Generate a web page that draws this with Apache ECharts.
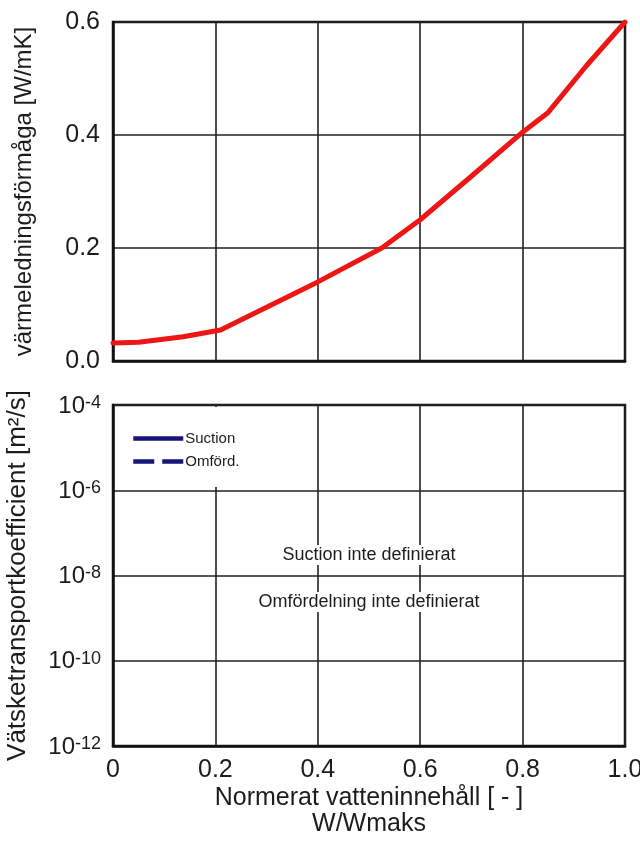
<!DOCTYPE html>
<html>
<head>
<meta charset="utf-8">
<script src="https://cdn.jsdelivr.net/npm/echarts@6/dist/echarts.min.js"></script>
<style>
  html, body { margin: 0; padding: 0; background: #fff; }
  #chart { width: 640px; height: 844px; }
</style>
</head>
<body>
<div id="chart"></div>
<script>
// normerat vatteninnehall (W/Wmaks) and varmeledningsformaga [W/mK]
var waterContent = [0, 0.05, 0.137, 0.21, 0.3, 0.4, 0.525, 0.6, 0.7, 0.8, 0.85, 0.925, 1.0];
var conductivity = [0.032, 0.033, 0.043, 0.055, 0.095, 0.14, 0.2, 0.25, 0.327, 0.405, 0.44, 0.523, 0.6];

// vatsketransport - no data defined
var suctionData = [];
var redistData = [];
var legendNames = ['Suction', 'Omförd.'];
var noteTexts = ['Suction inte definierat', 'Omfördelning inte definierat'];

var FONT = '"Liberation Sans", Arial, Helvetica, sans-serif';
var TXT = '#1c1c1c';

var myChart = echarts.init(document.getElementById('chart'));

function pairs(xs, ys) {
	var out = [];
	for (var i = 0; i < xs.length; i++) {
		out.push([xs[i], ys[i]]);
	}
	return out;
}

var option = {
	animation: false,
	backgroundColor: '#fff',
	textStyle: { fontFamily: FONT, color: TXT },
	grid: [
		{ left: 113, right: 15, top: 22, height: 339, show: true, borderColor: '#111', borderWidth: 2.5, outerBoundsMode: 'none', containLabel: false },
		{ left: 113, right: 15, top: 405, height: 341, show: true, borderColor: '#111', borderWidth: 2.5, outerBoundsMode: 'none', containLabel: false }
	],
	legend: {
		data: legendNames,
		orient: 'vertical',
		left: 115,
		top: 407,
		padding: [24, 15, 18, 16],
		itemGap: 8,
		itemWidth: 50,
		itemHeight: 15,
		backgroundColor: '#fff',
		itemStyle: { opacity: 0 },
		lineStyle: { width: 4.5 },
		textStyle: { fontFamily: FONT, fontSize: 15, color: TXT, padding: [0, 0, 0, -3] }
	},
	xAxis: [
		{
			gridIndex: 0, type: 'value', min: 0, max: 1, interval: 0.2,
			axisLine: { lineStyle: { color: '#111', width: 2.5 } },
			axisTick: { show: false },
			axisLabel: { show: false },
			splitLine: { lineStyle: { color: '#222', width: 1.6 } }
		},
		{
			gridIndex: 1, type: 'value', min: 0, max: 1, interval: 0.2,
			axisLine: { lineStyle: { color: '#111', width: 2.5 } },
			axisTick: { show: false },
			axisLabel: {
				fontSize: 25, color: TXT, margin: 12,
				formatter: function (v) { return v === 0 ? '0' : v.toFixed(1); }
			},
			splitLine: { lineStyle: { color: '#222', width: 1.6 } },
			name: 'Normerat vatteninnehåll [ - ]\nW/Wmaks',
			nameLocation: 'middle',
			nameGap: 39,
			nameTextStyle: { fontSize: 25, color: TXT, lineHeight: 26, verticalAlign: 'top' }
		}
	],
	yAxis: [
		{
			gridIndex: 0, type: 'value', min: 0, max: 0.6, interval: 0.2,
			axisLine: { show: true, lineStyle: { color: '#111', width: 2.5 } },
			axisTick: { show: false },
			axisLabel: {
				fontSize: 25, color: TXT, margin: 13,
				formatter: function (v) { return v.toFixed(1); }
			},
			splitLine: { lineStyle: { color: '#222', width: 1.6 } },
			name: 'värmeledningsförmåga [W/mK]',
			nameLocation: 'middle',
			nameGap: 77,
			nameTextStyle: { fontSize: 24, color: TXT }
		},
		{
			gridIndex: 1, type: 'log', logBase: 100, min: 1e-12, max: 1e-4, splitNumber: 4,
			axisLine: { show: true, lineStyle: { color: '#111', width: 2.5 } },
			axisTick: { show: false },
			axisLabel: {
				color: TXT, margin: 12,
				padding: [2, 0, 0, 0],
				formatter: function (v) {
					var e = Math.round(Math.log(v) / Math.LN10);
					return '{b|10}{s|' + e + '}';
				},
				rich: {
					b: { fontSize: 24, lineHeight: 24, verticalAlign: 'bottom', fontFamily: FONT, color: TXT },
					s: { fontSize: 18, lineHeight: 18, verticalAlign: 'top', padding: [0, 0, 12, 0], fontFamily: FONT, color: TXT }
				}
			},
			splitLine: { lineStyle: { color: '#222', width: 1.6 } },
			name: 'Vätsketransportkoefficient [m²/s]',
			nameLocation: 'middle',
			nameGap: 82,
			nameTextStyle: { fontSize: 26, color: TXT }
		}
	],
	graphic: [
		{
			type: 'text', x: 369, y: 555, z: 50,
			style: {
				text: noteTexts[0], font: '18px ' + FONT, fill: TXT,
				textAlign: 'center', textVerticalAlign: 'middle',
				backgroundColor: '#fff', padding: [1, 2]
			}
		},
		{
			type: 'text', x: 369, y: 602, z: 50,
			style: {
				text: noteTexts[1], font: '18px ' + FONT, fill: TXT,
				textAlign: 'center', textVerticalAlign: 'middle',
				backgroundColor: '#fff', padding: [1, 2]
			}
		}
	],
	series: [
		{
			name: 'lambda',
			type: 'line',
			xAxisIndex: 0, yAxisIndex: 0,
			data: pairs(waterContent, conductivity),
			showSymbol: false,
			lineStyle: { color: '#ee1515', width: 5, cap: 'round', join: 'round' },
			itemStyle: { color: '#ee1515' }
		},
		{
			name: legendNames[0],
			type: 'line',
			xAxisIndex: 1, yAxisIndex: 1,
			data: suctionData,
			symbol: 'none',
			color: '#15157a',
			lineStyle: { color: '#15157a', width: 4.5 }
		},
		{
			name: legendNames[1],
			type: 'line',
			xAxisIndex: 1, yAxisIndex: 1,
			data: redistData,
			symbol: 'none',
			color: '#15157a',
			lineStyle: { color: '#15157a', width: 4.5, type: [21, 8] }
		}
	]
};

myChart.setOption(option);
</script>
</body>
</html>
